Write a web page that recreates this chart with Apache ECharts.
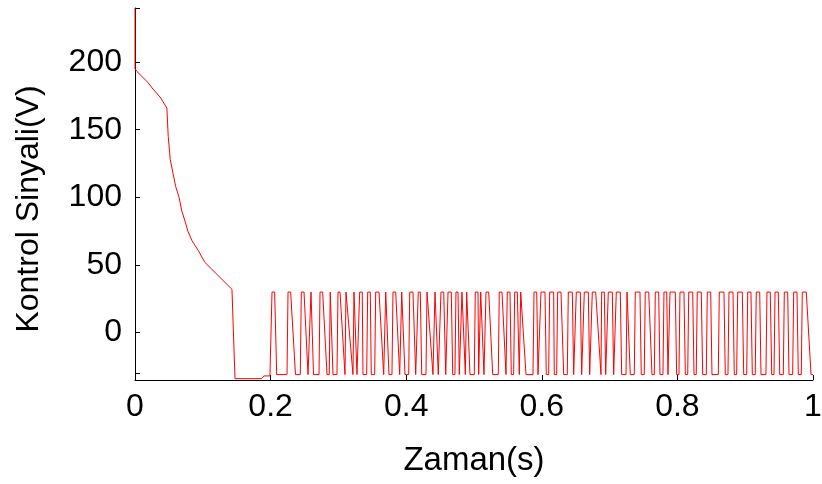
<!DOCTYPE html>
<html>
<head>
<meta charset="utf-8">
<script src="https://cdn.jsdelivr.net/npm/echarts@6/dist/echarts.min.js"></script>
<style>
html,body{margin:0;padding:0;background:#fff;}
#c{width:822px;height:484px;}
</style>
</head>
<body>
<div id="c"></div>
<script>
// Transient part of the control signal (time s, value V)
var transT = [0, 0, 0.003, 0.019, 0.025, 0.032, 0.038, 0.041, 0.047, 0.049, 0.052, 0.056, 0.060, 0.065, 0.069, 0.074, 0.078, 0.084, 0.093, 0.103, 0.143, 0.1475, 0.187, 0.190, 0.199];
var transV = [240, 195, 193, 185, 181, 177, 173.5, 171, 166, 145, 128, 118, 108, 100, 90, 82, 75, 68, 61, 52, 32, -34, -34, -32, -32];

// Switching part: pulse high-start, high-end, and low-reached times
var pulseHighStart = [0.2021,0.2257,0.2453,0.2596,0.2729,0.2880,0.2994,0.3112,0.3230,0.3314,0.3432,0.3550,0.3698,0.3805,0.3934,0.4052,0.4178,0.4307,0.4425,0.4513,0.4617,0.4734,0.4823,0.4892,0.5019,0.5099,0.5177,0.5373,0.5491,0.5600,0.5689,0.5885,0.5988,0.6116,0.6234,0.6391,0.6509,0.6627,0.6745,0.6883,0.6981,0.7099,0.7257,0.7379,0.7526,0.7674,0.7802,0.7891,0.8038,0.8167,0.8293,0.8441,0.8618,0.8761,0.8889,0.9037,0.9163,0.9321,0.9440,0.9577,0.9715,0.9842];
var pulseHighEnd   = [0.2060,0.2296,0.2493,0.2621,0.2768,0.2906,0.3024,0.3137,0.3255,0.3352,0.3470,0.3599,0.3727,0.3845,0.3963,0.4100,0.4208,0.4336,0.4454,0.4553,0.4665,0.4764,0.4852,0.4911,0.5059,0.5128,0.5217,0.5413,0.5531,0.5639,0.5718,0.5925,0.6047,0.6175,0.6283,0.6450,0.6568,0.6686,0.6795,0.6922,0.7040,0.7158,0.7286,0.7448,0.7577,0.7724,0.7842,0.7969,0.8097,0.8226,0.8352,0.8491,0.8687,0.8820,0.8957,0.9085,0.9214,0.9370,0.9488,0.9627,0.9764,0.9901];
var pulseLowAt     = [0.2090,0.2367,0.2552,0.2633,0.2832,0.2920,0.3097,0.3215,0.3274,0.3363,0.3485,0.3668,0.3746,0.3904,0.3982,0.4140,0.4229,0.4395,0.4473,0.4583,0.4686,0.4783,0.4872,0.4941,0.5069,0.5147,0.5276,0.5472,0.5550,0.5668,0.5767,0.5944,0.6066,0.6184,0.6323,0.6470,0.6588,0.6706,0.6873,0.6942,0.7060,0.7178,0.7305,0.7467,0.7625,0.7743,0.7861,0.7989,0.8117,0.8245,0.8373,0.8510,0.8706,0.8839,0.8978,0.9105,0.9233,0.9391,0.9509,0.9646,0.9783,0.9971];
var highLevel = 30;
var lowLevel = -31;
var riseTime = 0.0015;
var endTime = 1;

var xTicks = [0, 0.2, 0.4, 0.6, 0.8, 1];
var yLabels = [0, 50, 100, 150, 200];
var yTicks = [-30, 0, 50, 100, 150, 200, 240];

var data = [];
for (var i = 0; i < transT.length; i++) data.push([transT[i], transV[i]]);
for (var j = 0; j < pulseHighStart.length; j++) {
  data.push([pulseHighStart[j] - riseTime, lowLevel]);
  data.push([pulseHighStart[j], highLevel]);
  data.push([pulseHighEnd[j], highLevel]);
  data.push([pulseLowAt[j], lowLevel]);
}
data.push([endTime, lowLevel]);

var FONT = "'Liberation Sans', Arial, sans-serif";
var chart = echarts.init(document.getElementById('c'), null, {renderer: 'canvas'});
chart.setOption({
  animation: false,
  backgroundColor: '#ffffff',
  grid: {left: 135, top: 8, width: 678, height: 372, containLabel: false, outerBoundsMode: 'none'},
  xAxis: {
    type: 'value', min: 0, max: 1, interval: 0.2,
    splitLine: {show: false},
    axisLine: {show: true, onZero: false, lineStyle: {color: '#000', width: 1}},
    axisTick: {show: true, inside: true, length: 5, lineStyle: {color: '#000', width: 1}, customValues: xTicks},
    axisLabel: {color: '#000', fontFamily: FONT, fontSize: 32, margin: 11, customValues: xTicks},
    name: 'Zaman(s)', nameLocation: 'middle', nameGap: 64,
    nameTextStyle: {color: '#000', fontFamily: FONT, fontSize: 33}
  },
  yAxis: {
    type: 'value', min: -35, max: 240,
    splitLine: {show: false},
    axisLine: {show: true, onZero: false, lineStyle: {color: '#000', width: 1}},
    axisTick: {show: true, inside: true, length: 5, lineStyle: {color: '#000', width: 1}, customValues: yTicks},
    axisLabel: {color: '#000', fontFamily: FONT, fontSize: 32, margin: 13, customValues: yLabels}
  },
  graphic: [{
    type: 'text', x: 29, y: 209, rotation: Math.PI / 2,
    style: {text: 'Kontrol Sinyali(V)', fill: '#000', font: "32px " + FONT, align: 'center', verticalAlign: 'middle'}
  }],
  series: [{
    type: 'line', data: data, showSymbol: false, symbol: 'none',
    lineStyle: {color: '#ff0000', width: 1}, itemStyle: {color: '#ff0000'}
  }]
});
</script>
</body>
</html>
